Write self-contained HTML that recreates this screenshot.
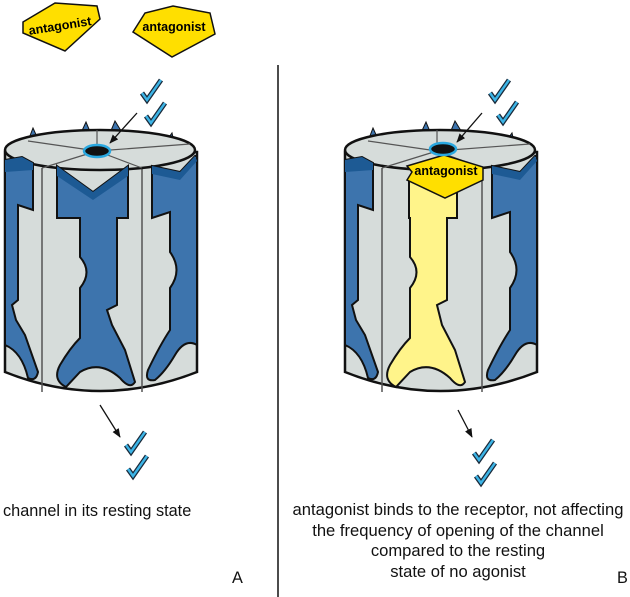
<!DOCTYPE html>
<html><head><style>body{margin:0;background:#fff}svg{display:block}</style></head>
<body>
<svg width="630" height="597" viewBox="0 0 630 597" xmlns="http://www.w3.org/2000/svg" font-family="Liberation Sans, Arial, sans-serif">
<defs>
<marker id="ah" viewBox="0 0 10 10" refX="9" refY="5" markerWidth="7" markerHeight="7" orient="auto"><path d="M0,1 L10,5 L0,9 Z" fill="#111"/></marker>
<g id="chk"><path d="M0,13 L5,20 L19,0" fill="none" stroke="#1a2a3a" stroke-width="5"/><path d="M0,13 L5,20 L19,0" fill="none" stroke="#3cb4e6" stroke-width="2.4"/></g>
<g id="body">
<path d="M28,141 L33,128 L38,139 Z M80,135 L86,122 L91,134 Z M110,133 L115,121 L123,134 Z M167,140 L172,133 L174,142 Z" fill="#3d74ad" stroke="#111" stroke-width="1"/>
<path d="M5,152 L5,372 Q100,410 197,372 L197,152 Z" fill="#d6dcda" stroke="#111" stroke-width="2.5"/>
<line x1="42" y1="168" x2="42" y2="392" stroke="#555" stroke-width="1.5"/>
<line x1="142" y1="168" x2="142" y2="392" stroke="#555" stroke-width="1.5"/>
<ellipse cx="100" cy="150" rx="95" ry="20" fill="#d6dcda" stroke="#111" stroke-width="2.5"/>
<g stroke="#555" stroke-width="1.2">
<line x1="97" y1="151" x2="97" y2="130"/><line x1="97" y1="151" x2="28" y2="141"/><line x1="97" y1="151" x2="190" y2="144"/>
<line x1="97" y1="151" x2="42" y2="168"/><line x1="97" y1="151" x2="142" y2="168"/>
</g>
<path d="M5,160 L22,157 L33,163 L33,210 L18,205 L18,300 L12,305 L16,320 L25,335 L38,372 Q36,382 28,378 Q22,352 5,345 Z" fill="#3d74ad" stroke="#111" stroke-width="2"/>
<path d="M5,160 L22,157 L33,163 L33,170 L5,172 Z" fill="#1d5a94"/>
<path d="M152,166 L180,172 L195,156 L197,156 L197,345 Q185,338 175,355 Q165,372 155,380 Q144,382 148,370 Q160,345 170,330 L170,288 Q183,270 170,252 L170,212 L152,218 Z" fill="#3d74ad" stroke="#111" stroke-width="2"/>
<path d="M152,166 L180,172 L195,156 L197,161 L180,180 L152,174 Z" fill="#1d5a94"/>
</g>
</defs>

<polygon points="23,22 55,3 97,6 100,19 65,51 23,33" fill="#ffdf00" stroke="#111" stroke-width="1.5"/>
<text x="60" y="30" font-size="12.5" font-weight="bold" text-anchor="middle" transform="rotate(-9 60 26)">antagonist</text>
<polygon points="133,32 145,13 173,6 210,13 215,34 172,57" fill="#ffdf00" stroke="#111" stroke-width="1.5"/>
<text x="174" y="31" font-size="12.5" font-weight="bold" text-anchor="middle">antagonist</text>

<use href="#body"/>
<path d="M57,166 L93,192 L128,166 L128,218 L117,218 L117,305 L107,310 L112,325 L125,350 L135,382 Q130,390 120,378 Q100,360 80,372 L66,387 Q52,380 60,365 Q70,348 80,338 L80,288 Q93,272 80,257 L80,218 L57,218 Z" fill="#3d74ad" stroke="#111" stroke-width="2"/>
<path d="M57,166 L93,192 L128,166 L128,176 L93,200 L57,176 Z" fill="#1d5a94"/>
<ellipse cx="97" cy="151" rx="13" ry="6" fill="#111" stroke="#2aa8e0" stroke-width="2.5"/>
<line x1="137" y1="113" x2="110" y2="143" stroke="#111" stroke-width="1.3" marker-end="url(#ah)"/>
<use href="#chk" transform="translate(142,80)"/>
<use href="#chk" transform="translate(146,103)"/>
<line x1="100" y1="405" x2="120" y2="437" stroke="#111" stroke-width="1.3" marker-end="url(#ah)"/>
<use href="#chk" transform="translate(126,432)"/>
<use href="#chk" transform="translate(128,456)"/>

<line x1="278" y1="65" x2="278" y2="597" stroke="#111" stroke-width="1.5"/>

<g transform="translate(340,0)">
<use href="#body"/>
<path d="M69,180 L117,180 L117,218 L107,218 L107,300 L97,305 L102,325 L115,350 L125,382 Q120,390 110,378 Q90,360 70,372 L56,387 Q42,380 50,365 Q60,348 70,338 L70,288 Q83,272 70,257 L70,218 L69,218 Z" fill="#fff48a" stroke="#111" stroke-width="2"/>
<polygon points="67,166 104,155 143,167 143,180 105,198 67,180 72,172" fill="#ffdf00" stroke="#111" stroke-width="1.5"/>
<text x="106" y="175" font-size="12.5" font-weight="bold" text-anchor="middle">antagonist</text>
<ellipse cx="103" cy="149" rx="13" ry="6" fill="#111" stroke="#2aa8e0" stroke-width="2.5"/>
<line x1="142" y1="113" x2="117" y2="142" stroke="#111" stroke-width="1.3" marker-end="url(#ah)"/>
<use href="#chk" transform="translate(150,80)"/>
<use href="#chk" transform="translate(158,102)"/>
<line x1="118" y1="410" x2="132" y2="437" stroke="#111" stroke-width="1.3" marker-end="url(#ah)"/>
<use href="#chk" transform="translate(134,440)"/>
<use href="#chk" transform="translate(136,463)"/>
</g>

<g font-size="16.3" fill="#111">
<text x="3" y="516">channel in its resting state</text>
<g font-size="16.6">
<text x="458" y="515" text-anchor="middle">antagonist binds to the receptor, not affecting</text>
<text x="458" y="536" text-anchor="middle">the frequency of opening of the channel</text>
<text x="458" y="556" text-anchor="middle">compared to the resting</text>
<text x="458" y="577" text-anchor="middle">state of no agonist</text>
</g>
<text x="232" y="583">A</text>
<text x="617" y="583">B</text>
</g>
</svg>
</body></html>
